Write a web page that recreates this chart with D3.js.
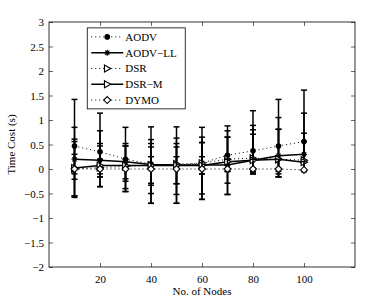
<!DOCTYPE html>
<html>
<head>
<meta charset="utf-8">
<script src="https://cdn.jsdelivr.net/npm/d3@7"></script>
<style>
  body { margin: 0; background: #fff; }
  svg text { font-family: "Liberation Serif", "DejaVu Serif", serif; fill: #000; }
</style>
</head>
<body>
<div id="chart"></div>
<script>
// data
var nodes = [10, 20, 30, 40, 50, 60, 70, 80, 90, 100];
var seriesNames = ["AODV", "AODV\u2212LL", "DSR", "DSR\u2212M", "DYMO"];

var aodvMean = [0.47, 0.35, 0.20, 0.10, 0.08, 0.12, 0.28, 0.37, 0.47, 0.56];
var aodvUp   = [1.42, 1.14, 0.85, 0.86, 0.86, 0.85, 0.88, 1.19, 1.42, 1.61];
var aodvLo   = [-0.55, -0.36, -0.46, -0.70, -0.70, -0.62, -0.52, -0.10, -0.16, -0.05];

var aodvllMean = [0.20, 0.18, 0.15, 0.09, 0.08, 0.08, 0.08, 0.18, 0.27, 0.30];
var aodvllUp   = [0.85, 0.78, 0.52, 0.60, 0.63, 0.65, 0.78, 0.89, 1.05, 1.14];
var aodvllLo   = [-0.58, -0.36, -0.40, -0.50, -0.52, -0.51, -0.29, -0.08, -0.10, -0.03];

var dsrMean = [0.00, 0.03, 0.05, 0.08, 0.10, 0.12, 0.20, 0.22, 0.20, 0.18];
var dsrUp   = [0.56, 0.47, 0.47, 0.52, 0.52, 0.54, 0.65, 0.80, 0.81, 0.73];
var dsrLo   = [-0.21, -0.16, -0.25, -0.33, -0.30, -0.10, -0.05, -0.05, -0.05, -0.02];

var dsrmMean = [0.02, 0.07, 0.07, 0.07, 0.07, 0.07, 0.15, 0.18, 0.20, 0.14];
var dsrmUp   = [0.61, 0.52, 0.47, 0.45, 0.45, 0.54, 0.65, 0.71, 0.81, 0.56];
var dsrmLo   = [-0.55, -0.16, -0.46, -0.70, -0.70, -0.62, -0.52, -0.10, -0.16, -0.05];

var dymoMean = [0.00, 0.00, 0.00, 0.00, 0.00, 0.00, 0.00, 0.00, 0.00, -0.02];
var dymoUp   = [0.30, 0.20, 0.20, 0.25, 0.25, 0.25, 0.20, 0.20, 0.20, 0.15];
var dymoLo   = [-0.10, -0.10, -0.20, -0.29, -0.30, -0.10, -0.05, -0.05, -0.16, -0.05];

var xTicks = [20, 40, 60, 80, 100];
var yTicks = [-2, -1.5, -1, -0.5, 0, 0.5, 1, 1.5, 2, 2.5, 3];

var series = [
  {name: seriesNames[0], mean: aodvMean, up: aodvUp, lo: aodvLo, dotted: true, marker: "dot"},
  {name: seriesNames[1], mean: aodvllMean, up: aodvllUp, lo: aodvllLo, dotted: false, marker: "star"},
  {name: seriesNames[2], mean: dsrMean, up: dsrUp, lo: dsrLo, dotted: true, marker: "tri"},
  {name: seriesNames[3], mean: dsrmMean, up: dsrmUp, lo: dsrmLo, dotted: false, marker: "tri"},
  {name: seriesNames[4], mean: dymoMean, up: dymoUp, lo: dymoLo, dotted: true, marker: "diamond"}
];

var W = 382, H = 301;
var margin = {top: 22, right: 27, bottom: 34, left: 49};
var width = W - margin.left - margin.right,
    height = H - margin.top - margin.bottom;

var svg = d3.select("#chart").append("svg")
    .attr("width", W)
    .attr("height", H);

var g = svg.append("g")
    .attr("transform", "translate(" + margin.left + "," + margin.top + ")");

var x = d3.scaleLinear().domain([0, 120]).range([0, width]);
var y = d3.scaleLinear().domain([-2, 3]).range([height, 0]);

function fmt(v) {
  return (v < 0 ? "\u2212" : "") + d3.format("~g")(Math.abs(v));
}

// axes, MATLAB style: ticks inward on all four sides
var tk = 4;
g.append("g")
    .attr("transform", "translate(0," + height + ")")
    .call(d3.axisBottom(x).tickValues(xTicks).tickSize(-tk).tickPadding(8).tickFormat(fmt))
    .call(function (a) { a.select(".domain").remove(); });
g.append("g")
    .call(d3.axisTop(x).tickValues(xTicks).tickSize(-tk).tickFormat(""))
    .call(function (a) { a.select(".domain").remove(); });
g.append("g")
    .call(d3.axisLeft(y).tickValues(yTicks).tickSize(-tk).tickPadding(5).tickFormat(fmt))
    .call(function (a) { a.select(".domain").remove(); });
g.append("g")
    .attr("transform", "translate(" + width + ",0)")
    .call(d3.axisRight(y).tickValues(yTicks).tickSize(-tk).tickFormat(""))
    .call(function (a) { a.select(".domain").remove(); });

g.selectAll(".tick text").attr("font-size", 11).style("font-family", "Liberation Serif, serif");
g.selectAll(".tick line").attr("stroke", "#000").attr("stroke-width", 0.6);

g.append("rect")
    .attr("width", width).attr("height", height)
    .attr("fill", "none").attr("stroke", "#000").attr("stroke-width", 0.8);

// markers
function drawMarker(sel, type, cx, cy) {
  if (type === "dot") {
    sel.append("circle").attr("cx", cx).attr("cy", cy).attr("r", 2.8)
      .attr("fill", "#000");
  } else if (type === "star") {
    var s = 3;
    sel.append("path")
      .attr("d", "M" + (cx - s) + "," + cy + "H" + (cx + s) +
                 "M" + cx + "," + (cy - s) + "V" + (cy + s) +
                 "M" + (cx - s * 0.7) + "," + (cy - s * 0.7) + "L" + (cx + s * 0.7) + "," + (cy + s * 0.7) +
                 "M" + (cx - s * 0.7) + "," + (cy + s * 0.7) + "L" + (cx + s * 0.7) + "," + (cy - s * 0.7))
      .attr("stroke", "#000").attr("stroke-width", 1.2);
  } else if (type === "tri") {
    var t = 3.5;
    sel.append("path")
      .attr("d", "M" + (cx - t * 0.8) + "," + (cy - t) + "L" + (cx + t) + "," + cy +
                 "L" + (cx - t * 0.8) + "," + (cy + t) + "Z")
      .attr("fill", "#fff").attr("stroke", "#000").attr("stroke-width", 1.1);
  } else if (type === "diamond") {
    var dd = 3.5;
    sel.append("path")
      .attr("d", "M" + cx + "," + (cy - dd) + "L" + (cx + dd) + "," + cy +
                 "L" + cx + "," + (cy + dd) + "L" + (cx - dd) + "," + cy + "Z")
      .attr("fill", "#fff").attr("stroke", "#000").attr("stroke-width", 1.1);
  }
}

var plot = g.append("g");

series.forEach(function (s) {
  var pts = nodes.map(function (n, i) { return {n: n, m: s.mean[i], up: s.up[i], lo: s.lo[i]}; });

  // error bars
  var eb = plot.append("g").attr("stroke", "#000").attr("stroke-width", 1.5);
  pts.forEach(function (p) {
    var cx = x(p.n);
    eb.append("line").attr("x1", cx).attr("x2", cx).attr("y1", y(p.up)).attr("y2", y(p.lo));
    eb.append("line").attr("x1", cx - 3).attr("x2", cx + 3).attr("y1", y(p.up)).attr("y2", y(p.up));
    eb.append("line").attr("x1", cx - 3).attr("x2", cx + 3).attr("y1", y(p.lo)).attr("y2", y(p.lo));
  });

  plot.append("path")
    .datum(pts)
    .attr("fill", "none")
    .attr("stroke", "#000")
    .attr("stroke-width", s.dotted ? 1 : 1.5)
    .attr("stroke-dasharray", s.dotted ? "1,3" : null)
    .attr("d", d3.line().x(function (d) { return x(d.n); }).y(function (d) { return y(d.m); }));

  var mk = plot.append("g");
  pts.forEach(function (p) { drawMarker(mk, s.marker, x(p.n), y(p.m)); });
});

// legend
var leg = g.append("g").attr("transform", "translate(" + (x(15) ) + "," + (y(2.88)) + ")");
leg.append("rect")
    .attr("width", 98).attr("height", 81)
    .attr("fill", "#fff").attr("stroke", "#000").attr("stroke-width", 0.8);
series.forEach(function (s, i) {
  var ly = 9 + i * 15.8;
  leg.append("line")
    .attr("x1", 4).attr("x2", 36).attr("y1", ly).attr("y2", ly)
    .attr("stroke", "#000")
    .attr("stroke-width", s.dotted ? 1 : 1.5)
    .attr("stroke-dasharray", s.dotted ? "1,3" : null);
  drawMarker(leg, s.marker, 20, ly);
  leg.append("text")
    .attr("x", 38).attr("y", ly).attr("dy", "0.35em")
    .attr("font-size", 11)
    .text(s.name);
});

// axis titles
svg.append("text")
    .attr("x", margin.left + x(60))
    .attr("y", H - 6)
    .attr("text-anchor", "middle")
    .attr("font-size", 11)
    .text("No. of Nodes");
svg.append("text")
    .attr("transform", "translate(15," + (margin.top + y(0.5)) + ") rotate(-90)")
    .attr("text-anchor", "middle")
    .attr("font-size", 11)
    .text("Time Cost (s)");
</script>
</body>
</html>
